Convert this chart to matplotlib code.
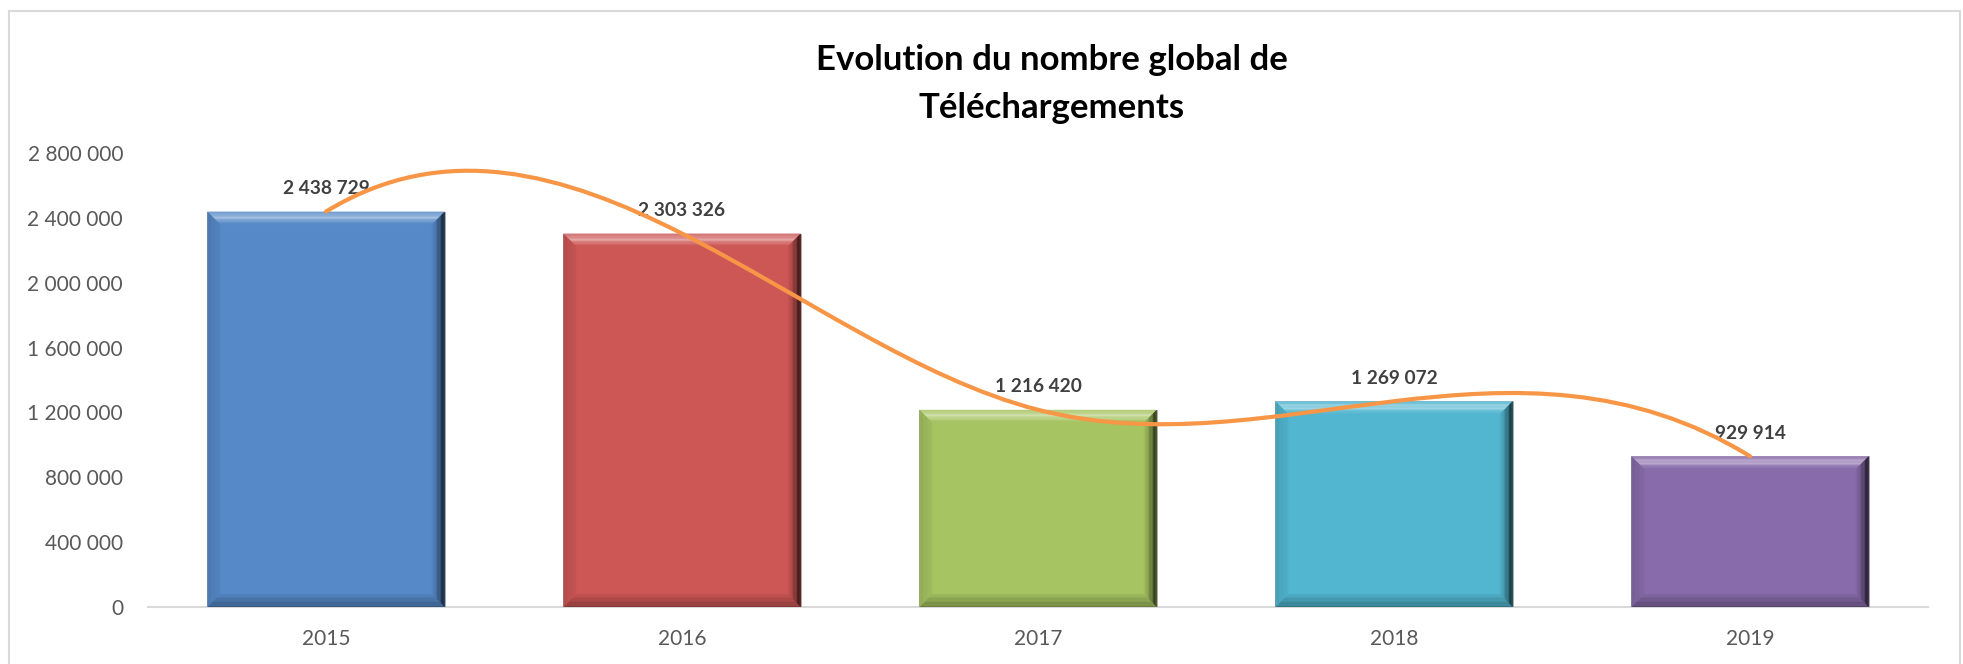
import numpy as np
import matplotlib
matplotlib.use("Agg")
import matplotlib.pyplot as plt
from matplotlib.patches import Polygon, Rectangle, PathPatch
from matplotlib.path import Path
from matplotlib.colors import to_rgb

# ---------------- data ----------------
years = ["2015", "2016", "2017", "2018", "2019"]
downloads = [2438729, 2303326, 1216420, 1269072, 929914]
bar_colors = ["#5689C8", "#CD5755", "#A6C462", "#52B6D0", "#886BAA"]
yticks = [0, 400000, 800000, 1200000, 1600000, 2000000, 2400000, 2800000]
title_lines = ["Evolution du nombre global de", "Téléchargements"]

plt.rcParams['font.family'] = ['Lato', 'DejaVu Sans']

W, H = 1963, 664
fig = plt.figure(figsize=(W / 100, H / 100), dpi=100)
fig.patch.set_facecolor("white")

# chart frame
fig.patches.append(Rectangle((9 / W, -0.05), (1960 - 9) / W, 0.05 + (H - 11) / H,
                             transform=fig.transFigure, fill=False,
                             edgecolor="#D9D9D9", linewidth=1.5))

left, right = 148 / W, 1928 / W
bottom, top = (H - 607) / H, 1 - 153 / H
ax = fig.add_axes([left, bottom, right - left, top - bottom])
ax.set_xlim(-0.5, len(years) - 0.5)
ax.set_ylim(0, yticks[-1])

x = np.arange(len(years))
bw = 2 / 3

# pixel -> data conversion for bevel size
px_x = W * (right - left) / len(years)
px_y = H * (top - bottom) / yticks[-1]
bev_px = 13
bx = bev_px / px_x
by = bev_px / px_y


def mix(c, other, a):
    c = np.array(to_rgb(c)); o = np.array(to_rgb(other))
    return tuple(c * (1 - a) + o * a)


N = 10
for xi, v, col in zip(x, downloads, bar_colors):
    x0, x1 = xi - bw / 2, xi + bw / 2
    ax.bar(xi, v, width=bw, color=col, edgecolor="#A6A6A6", linewidth=0.6, zorder=2)
    for k in range(N):
        t0, t1 = k / N, (k + 1) / N
        tm = (t0 + t1) / 2
        # top
        a = 0.14 + 0.38 * np.exp(-((tm - 0.45) / 0.25) ** 2) * (1 - tm * 0.3)
        if tm > 0.7:
            a *= (1 - tm) / 0.3
        c_top = mix(col, "white", a)
        ax.add_patch(Polygon([(x0 + t0 * bx, v - t0 * by), (x1 - t0 * bx, v - t0 * by),
                              (x1 - t1 * bx, v - t1 * by), (x0 + t1 * bx, v - t1 * by)],
                             closed=True, facecolor=c_top, edgecolor="none", zorder=2.1))
        # bottom
        c_bot = mix(col, "black", 0.32 * (1 - tm) + 0.05)
        ax.add_patch(Polygon([(x0 + t0 * bx, t0 * by), (x1 - t0 * bx, t0 * by),
                              (x1 - t1 * bx, t1 * by), (x0 + t1 * bx, t1 * by)],
                             closed=True, facecolor=c_bot, edgecolor="none", zorder=2.1))
        # left
        c_left = mix(col, "black", 0.10 * (1 - tm) + 0.04)
        ax.add_patch(Polygon([(x0 + t0 * bx, t0 * by), (x0 + t0 * bx, v - t0 * by),
                              (x0 + t1 * bx, v - t1 * by), (x0 + t1 * bx, t1 * by)],
                             closed=True, facecolor=c_left, edgecolor="none", zorder=2.1))
        # right
        c_right = mix(col, "black", 0.85 * (1 - tm) ** 1.4 + 0.03)
        ax.add_patch(Polygon([(x1 - t0 * bx, t0 * by), (x1 - t0 * bx, v - t0 * by),
                              (x1 - t1 * bx, v - t1 * by), (x1 - t1 * bx, t1 * by)],
                             closed=True, facecolor=c_right, edgecolor="none", zorder=2.1))

# ---------------- smoothed line (not-a-knot cubic spline as Bezier path) ----------------
y = np.array(downloads, dtype=float)
n = len(y)
A = np.zeros((n, n)); rhs = np.zeros(n)
for i in range(1, n - 1):
    A[i, i - 1], A[i, i], A[i, i + 1] = 1, 4, 1
    rhs[i] = 6 * (y[i + 1] - 2 * y[i] + y[i - 1])
A[0, 0], A[0, 1], A[0, 2] = 1, -2, 1
A[-1, -1], A[-1, -2], A[-1, -3] = 1, -2, 1
M = np.linalg.solve(A, rhs)
slopes = np.zeros(n)
for i in range(n - 1):
    slopes[i] = (y[i + 1] - y[i]) - (2 * M[i] + M[i + 1]) / 6
slopes[-1] = (y[-1] - y[-2]) + (M[-2] + 2 * M[-1]) / 6

verts = [(x[0], y[0])]
codes = [Path.MOVETO]
for i in range(n - 1):
    verts += [(x[i] + 1 / 3, y[i] + slopes[i] / 3),
              (x[i + 1] - 1 / 3, y[i + 1] - slopes[i + 1] / 3),
              (x[i + 1], y[i + 1])]
    codes += [Path.CURVE4] * 3
ax.add_patch(PathPatch(Path(verts, codes), facecolor="none", edgecolor="#F79646",
                       linewidth=3.0, capstyle="round", zorder=5))

# data labels
for xi, v in zip(x, downloads):
    lbl = f"{v:,}".replace(",", " ")
    ax.annotate(lbl, (xi, v), xytext=(0, 16.5), textcoords="offset points",
                ha="center", va="center", fontsize=13.8, fontweight="bold",
                color="#404040", zorder=4)

# axes styling
for s in ["top", "right", "left"]:
    ax.spines[s].set_visible(False)
ax.spines["bottom"].set_color("#D9D9D9")
ax.spines["bottom"].set_linewidth(1.5)
ax.spines["bottom"].set_zorder(1)
ax.set_xticks(x)
ax.set_xticklabels(years)
ax.set_yticks(yticks)
ax.set_yticklabels([f"{t:,}".replace(",", " ") for t in yticks])
ax.tick_params(axis="both", length=0, labelsize=15, labelcolor="#595959")
ax.tick_params(axis="x", pad=16)
ax.tick_params(axis="y", pad=18)
ax.set_facecolor("none")

# title
fig.text(1052 / W, 1 - 60 / H, title_lines[0], ha="center", va="center",
         fontsize=25, fontweight="bold", color="black")
fig.text(1052 / W, 1 - 108 / H, title_lines[1], ha="center", va="center",
         fontsize=25, fontweight="bold", color="black")

fig.savefig("out.png", dpi=100, facecolor="white")
